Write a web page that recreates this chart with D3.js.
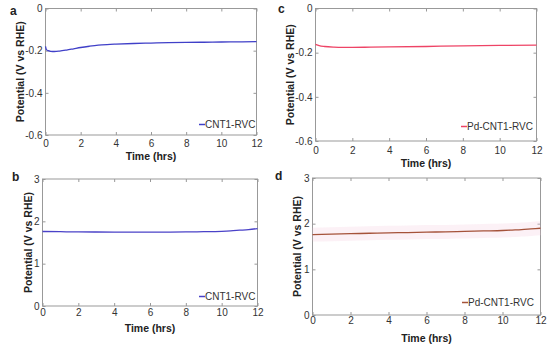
<!DOCTYPE html>
<meta charset="utf-8">
<script src="https://cdn.jsdelivr.net/npm/d3@7/dist/d3.min.js"></script>
<style>
body { margin: 0; background: #fff; }
text { font-family: "Liberation Sans", Arial, sans-serif; }
.tick text { fill: #333; font-size: 10px; }
.ttl { font-weight: bold; font-size: 10.5px; fill: #222; }
.lbl { font-weight: bold; font-size: 12px; fill: #222; }
.leg { font-size: 10px; fill: #333; }
</style>
<body>
<script>
// time (hrs) and potential (V vs RHE)
var timeA = [0, 0.05, 0.15, 0.3, 0.5, 0.8, 1.2, 1.6, 2, 2.5, 3, 3.5, 4, 5, 6, 7, 8, 9, 10, 11, 12];
var potA  = [-0.18, -0.195, -0.2, -0.203, -0.204, -0.202, -0.197, -0.191, -0.185, -0.179, -0.174, -0.171, -0.169, -0.166, -0.164, -0.162, -0.161, -0.16, -0.159, -0.158, -0.157];

var timeC = [0, 0.2, 0.5, 1, 1.5, 2, 3, 4, 6, 8, 10, 12];
var potC  = [-0.162, -0.168, -0.172, -0.175, -0.176, -0.176, -0.175, -0.174, -0.172, -0.169, -0.167, -0.166];

var timeB = [0, 1, 2, 3, 4, 5, 6, 7, 8, 9, 10, 10.5, 11, 11.5, 12];
var potB  = [1.76, 1.755, 1.75, 1.748, 1.745, 1.745, 1.745, 1.747, 1.75, 1.755, 1.765, 1.775, 1.79, 1.805, 1.83];

var timeD = [0, 1, 2, 3, 4, 5, 6, 7, 8, 9, 10, 10.5, 11, 11.5, 12];
var potD  = [1.76, 1.77, 1.78, 1.79, 1.80, 1.805, 1.815, 1.82, 1.83, 1.84, 1.85, 1.86, 1.87, 1.885, 1.9];

var xTicks = [0, 2, 4, 6, 8, 10, 12];
var yTicksTop = [0, -0.2, -0.4, -0.6];
var yTicksBottom = [0, 1, 2, 3];

var W = 550, H = 346;
var svg = d3.select("body").append("svg").attr("width", W).attr("height", H);

var fmtNeg = function(d) { return d === 0 ? "0" : d.toFixed(1); };
var fmtInt = function(d) { return String(d); };

var panels = [
  { tag: "a", t: timeA, v: potA, name: "CNT1-RVC", col: "#4040c8", yd: [-0.6, 0], yt: yTicksTop, fmt: fmtNeg,
    l: 45.5, r: 256.5, top: 8.5, bot: 135, xpad: 5, tagX: 10, tagY: 15, ytX: 24, xtY: 160, legX: 199, legY: 128 },
  { tag: "c", t: timeC, v: potC, name: "Pd-CNT1-RVC", col: "#ee4466", yd: [-0.6, 0], yt: yTicksTop, fmt: fmtNeg,
    l: 315.5, r: 536.5, top: 8.5, bot: 141, xpad: 6, tagX: 278, tagY: 13, ytX: 294, xtY: 167, legX: 461, legY: 130 },
  { tag: "b", t: timeB, v: potB, name: "CNT1-RVC", col: "#4a42c8", yd: [0, 3], yt: yTicksBottom, fmt: fmtInt,
    l: 42.5, r: 257.5, top: 179, bot: 306, xpad: 3, tagX: 12, tagY: 181, ytX: 32, xtY: 332, legX: 199, legY: 300 },
  { tag: "d", t: timeD, v: potD, name: "Pd-CNT1-RVC", col: "#a5533a", yd: [0, 3], yt: yTicksBottom, fmt: fmtInt,
    l: 312.5, r: 540.5, top: 178, bot: 315, xpad: 2, tagX: 275, tagY: 180, ytX: 301, xtY: 342, legX: 462, legY: 306 }
];

panels.forEach(function(p) {
  var x = d3.scaleLinear().domain([0, 12]).range([p.l, p.r]);
  var y = d3.scaleLinear().domain(p.yd).range([p.bot, p.top]);
  var g = svg.append("g");
  var rows = p.t.map(function(t, i) { return { t: t, v: p.v[i] }; });

  // frame
  g.append("rect").attr("x", p.l).attr("y", p.top)
    .attr("width", p.r - p.l).attr("height", p.bot - p.top)
    .attr("fill", "#fff").attr("stroke", "#999").attr("stroke-width", 1);

  var ax = function(a, pos, tv, fmt, pad) {
    var s = g.append("g").attr("transform", pos)
      .call(a.tickValues(tv).tickSize(-3).tickPadding(pad).tickFormat(fmt));
    s.select(".domain").remove();
    s.selectAll(".tick line").attr("stroke", "#999");
    return s;
  };
  ax(d3.axisBottom(x), "translate(0," + p.bot + ")", xTicks, fmtInt, p.xpad);
  ax(d3.axisTop(x), "translate(0," + p.top + ")", xTicks, "", 3).selectAll("text").remove();
  ax(d3.axisLeft(y), "translate(" + p.l + ",0)", p.yt, p.fmt, 3);
  ax(d3.axisRight(y), "translate(" + p.r + ",0)", p.yt, "", 3).selectAll("text").remove();

  var line = d3.line().x(function(d) { return x(d.t); }).y(function(d) { return y(d.v); })
    .curve(d3.curveMonotoneX);

  if (p.tag === "d") {
    // faint pink band seen behind the trace
    g.append("path").datum(rows).attr("d", line).attr("fill", "none")
      .attr("stroke", "#f3c6dc").attr("stroke-opacity", 0.25).attr("stroke-width", 14);
  }
  g.append("path").datum(rows).attr("d", line).attr("fill", "none")
    .attr("stroke", p.col).attr("stroke-width", 1.3);

  // legend
  g.append("line").attr("x1", p.legX).attr("x2", p.legX + 6)
    .attr("y1", p.legY - 3.5).attr("y2", p.legY - 3.5)
    .attr("stroke", p.col).attr("stroke-width", 1.5);
  g.append("text").attr("class", "leg").attr("x", p.legX + 6).attr("y", p.legY).text(p.name);

  // titles
  g.append("text").attr("class", "ttl").attr("text-anchor", "middle")
    .attr("transform", "translate(" + p.ytX + "," + ((p.top + p.bot) / 2) + ") rotate(-90)")
    .text("Potential (V vs RHE)");
  g.append("text").attr("class", "ttl").attr("text-anchor", "middle")
    .attr("x", (p.l + p.r) / 2).attr("y", p.xtY).text("Time (hrs)");
  g.append("text").attr("class", "lbl").attr("x", p.tagX).attr("y", p.tagY).text(p.tag);
});
</script>
</body>
